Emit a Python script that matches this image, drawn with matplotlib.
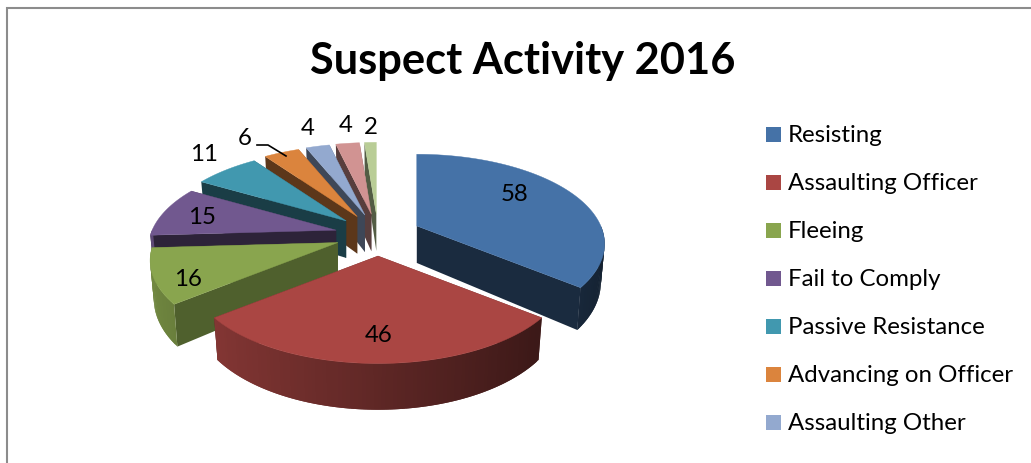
"""Suspect Activity 2016 - exploded 3D style pie, projected by hand onto a pixel-sized axes."""

import numpy as np
import matplotlib
matplotlib.use("Agg")
import matplotlib.pyplot as plt
from matplotlib.patches import Polygon, Rectangle
from matplotlib.colors import to_rgb

# ── Data ───────────────────────────────────────────────────────────────────────
TITLE = "Suspect Activity 2016"
categories = ["Resisting", "Assaulting Officer", "Fleeing", "Fail to Comply",
              "Passive Resistance", "Advancing on Officer", "Assaulting Other",
              "Assaulting Civilian", "Other"]
values = [58, 46, 16, 15, 11, 6, 4, 4, 2]
legend_shown = 7  # the picture is cut off after the seventh entry

colors = ["#4572A7", "#AA4643", "#89A54E", "#71588F", "#4198AF",
          "#DB843D", "#93A9CF", "#D19392", "#B9CD96"]
wall_shade = [0.38, 0.40, 0.58, 0.40, 0.40, 0.42, 0.42, 0.42, 0.45]

# ── Layout (pixels) ────────────────────────────────────────────────────────────
W, H = 1031, 464
CX, CY = 378, 236        # pie centre before the slices are pulled out
EXPLODE_X, EXPLODE_Y = 43, 21
RX, RY = 184, 86         # disc size
PERSP = 0.2              # front of the disc is nearer than the back
DEPTH = 37               # wall height at the disc centre
BOTTOM_SHRINK = 0.98

label_xy = [(515, 195), (379, 336), (188, 280), (202, 218), (204, 155),
            (245, 139), (308, 129), (346, 125), (371, 128)]
legend_y = [136, 184, 232, 280, 328, 376, 424]
legend_box_x, legend_box_size, legend_text_x = 766, 15, 788


def ring(theta, bottom=False):
    """Offset from a slice apex of the rim point at clock angle theta (radians)."""
    x, y = np.sin(theta), np.cos(theta)
    w = 1 + PERSP * y
    px = RX * x / w
    py = -RY * y / w
    if bottom:
        px = px * BOTTOM_SHRINK
        py = py + DEPTH / w
    return px, py


def shade(color, f):
    return tuple(min(1.0, c * f) for c in to_rgb(color))


fig = plt.figure(figsize=(W / 100, H / 100), dpi=100)
ax = fig.add_axes([0, 0, 1, 1])
ax.set_xlim(0, W)
ax.set_ylim(H, 0)
ax.axis("off")

# chart frame, only top and left are inside the crop
ax.plot([6.5, 6.5, W], [H, 8.5, 8.5], color="#8c8c8c", lw=1.5, solid_joinstyle="miter")

# ── Slices ─────────────────────────────────────────────────────────────────────
edges = np.concatenate([[0], np.cumsum(values)]) / sum(values) * 2 * np.pi
slices = []
for i in range(len(values)):
    t0, t1 = edges[i], edges[i + 1]
    mid = (t0 + t1) / 2
    ax0 = CX + EXPLODE_X * np.sin(mid)
    ay0 = CY - EXPLODE_Y * np.cos(mid)
    slices.append((ay0, i, t0, t1, ax0))

# painter's order: the slice whose apex is furthest back goes first
for ay0, i, t0, t1, ax0 in sorted(slices, key=lambda s: s[0]):
    col = colors[i]
    z = 3 + ay0 / 100

    # radial walls
    for t in (t0, t1):
        tx, ty = ring(t)
        bx, by = ring(t, bottom=True)
        wall = [(ax0, ay0), (ax0 + tx, ay0 + ty), (ax0 + bx, ay0 + by), (ax0, ay0 + DEPTH)]
        c = shade(col, wall_shade[i])
        ax.add_patch(Polygon(wall, closed=True, fc=c, ec="none", zorder=z))

    # outer wall, lit from the left; each facet overlaps the next so no seams show
    n = max(2, int(np.degrees(t1 - t0)))
    ts = np.linspace(t0, t1, n + 1)
    for k in range(n):
        a, b = ts[k], ts[min(k + 2, n)]
        mid_t = (ts[k] + ts[k + 1]) / 2
        if np.cos(mid_t) > 0:
            continue  # back half of the disc, never visible
        p0, p1 = ring(a), ring(b)
        q0, q1 = ring(a, True), ring(b, True)
        quad = [(ax0 + p0[0], ay0 + p0[1]), (ax0 + p1[0], ay0 + p1[1]),
                (ax0 + q1[0], ay0 + q1[1]), (ax0 + q0[0], ay0 + q0[1])]
        c = shade(col, 0.56 - 0.27 * np.sin(mid_t))
        ax.add_patch(Polygon(quad, closed=True, fc=c, ec="none",
                             zorder=z + 0.001 + 0.00001 * (n - k if mid_t < np.pi else k)))

    # top face
    rim = np.linspace(t0, t1, max(3, int(np.degrees(t1 - t0)) * 2))
    rx, ry = ring(rim)
    top = [(ax0, ay0)] + list(zip(ax0 + rx, ay0 + ry))
    ax.add_patch(Polygon(top, closed=True, fc=col, ec=col, lw=0.3, zorder=z + 0.005))

# ── Labels ─────────────────────────────────────────────────────────────────────
FONT = "Lato"
for v, (lx, ly) in zip(values, label_xy):
    ax.text(lx, ly, str(v), ha="center", va="center", fontsize=17.3, family=FONT,
            color="black", zorder=10)
ax.plot([257, 268, 286], [146, 146, 157], color="black", lw=1.2, zorder=10)

ax.text(523, 61, TITLE, ha="center", va="center", fontsize=31.2, fontweight="bold",
        family=FONT, color="black")

# ── Legend ─────────────────────────────────────────────────────────────────────
for name, col, y in zip(categories[:legend_shown], colors, legend_y):
    ax.add_patch(Rectangle((legend_box_x, y - 1 - legend_box_size / 2), legend_box_size,
                           legend_box_size, fc=col, ec="none"))
    ax.text(legend_text_x, y, name, ha="left", va="center", fontsize=17.3, family=FONT,
            color="black")

fig.savefig("out.png", dpi=100)
